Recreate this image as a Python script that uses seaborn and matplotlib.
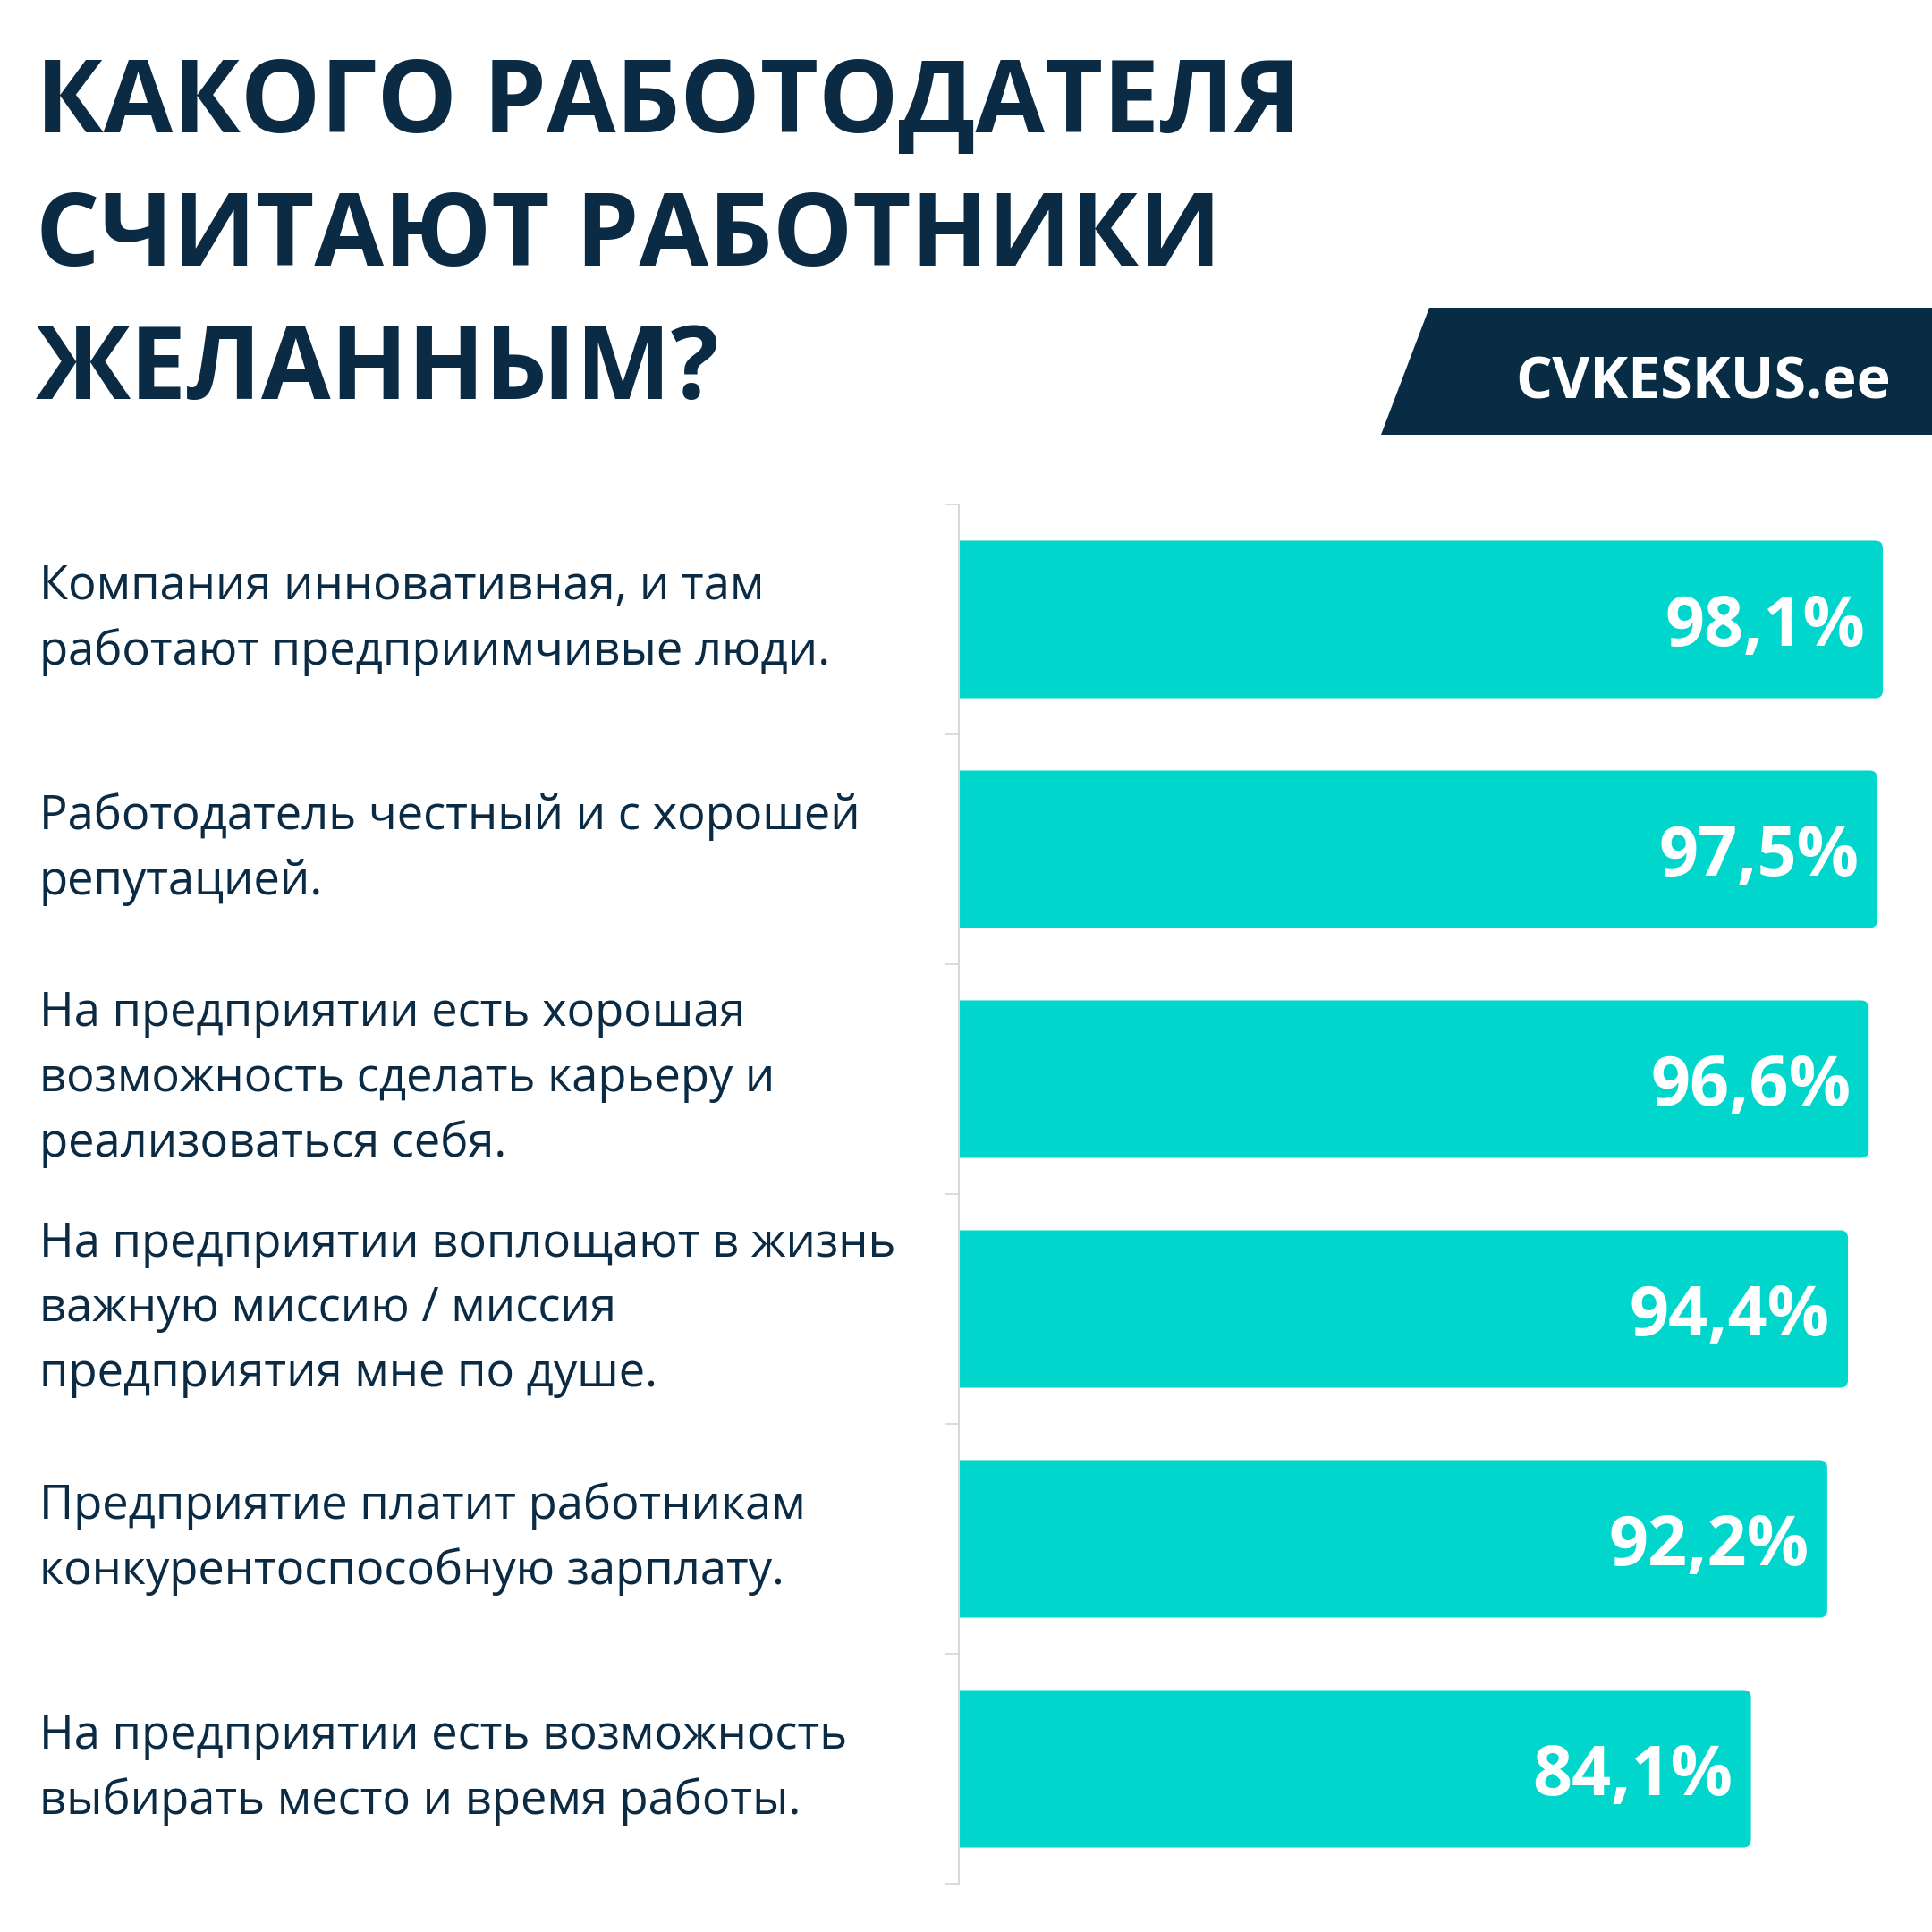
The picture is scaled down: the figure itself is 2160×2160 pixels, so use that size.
import numpy as np
import pandas as pd
import seaborn as sns
import matplotlib.pyplot as plt
from matplotlib.patches import FancyBboxPatch, Polygon
import matplotlib.transforms as mtransforms

# data
labels = [
    "Компания инновативная, и там\nработают предприимчивые люди.",
    "Работодатель честный и с хорошей\nрепутацией.",
    "На предприятии есть хорошая\nвозможность сделать карьеру и\nреализоваться себя.",
    "На предприятии воплощают в жизнь\nважную миссию / миссия\nпредприятия мне по душе.",
    "Предприятие платит работникам\nконкурентоспособную зарплату.",
    "На предприятии есть возможность\nвыбирать место и время работы.",
]
values = [98.1, 97.5, 96.6, 94.4, 92.2, 84.1]
title_lines = ["КАКОГО РАБОТОДАТЕЛЯ", "СЧИТАЮТ РАБОТНИКИ", "ЖЕЛАННЫМ?"]
logo_text = "CVKESKUS.ee"

navy = '#0b2b45'
teal = '#00d6cc'

sns.set_style('white')
plt.rcParams['font.family'] = ['Open Sans', 'DejaVu Sans']

W = 2160
fig = plt.figure(figsize=(21.6, 21.6), dpi=100)
fig.patch.set_facecolor('white')

# axes: left spine at x=1072px, y from 564px to 2106px
ax = fig.add_axes([1072 / W, 1 - 2106 / W, 1 - 1072 / W, (2106 - 564) / W])

df = pd.DataFrame({'label': labels, 'value': values})
sns.barplot(data=df, x='value', y='label', orient='h', color=teal,
            width=0.685, saturation=1, ax=ax)

ax.set_xlim(0, (W - 1072) / 10.53)
ax.set_ylim(len(labels) - 0.5, -0.5)

# rounded right ends
xr = 10.53 / 257.0
for p in list(ax.patches):
    x0, y0, w, h = p.get_x(), p.get_y(), p.get_width(), p.get_height()
    rp = FancyBboxPatch((x0 - 2, y0), w + 2, h,
                        boxstyle="round,pad=0,rounding_size=0.8",
                        mutation_aspect=xr, facecolor=teal, edgecolor='none',
                        clip_on=True)
    p.remove()
    ax.add_patch(rp)
    ax.text(x0 + w - 1.9, y0 + h / 2, f"{w:.1f}".replace('.', ',') + '%',
            ha='right', va='center_baseline', color='white',
            fontsize=55.5, fontweight='bold')

ax.set_xlabel('')
ax.set_ylabel('')
ax.set_xticks([])
ax.set_yticks(range(len(labels)))
ax.set_yticklabels([''] * len(labels))
ax.set_yticks(np.arange(-0.5, len(labels), 1), minor=True)
ax.tick_params(axis='y', which='major', length=0)
ax.tick_params(axis='y', which='minor', length=11.5, width=1.2,
               color='#d4d4d4', left=True)
for s in ['top', 'right', 'bottom']:
    ax.spines[s].set_visible(False)
ax.spines['left'].set_color('#d8d8d8')
ax.spines['left'].set_linewidth(1.5)

# category labels, left aligned at the image edge
trans = mtransforms.blended_transform_factory(fig.transFigure, ax.transData)
for i, lab in enumerate(labels):
    ax.text(44 / W, i, lab, transform=trans, ha='left', va='center',
            fontsize=37.8, color=navy, linespacing=1.47, clip_on=False)

# title
for line, base in zip(title_lines, [148, 297, 446]):
    fig.text(40 / W, 1 - base / W, line, ha='left', va='baseline',
             fontsize=81, fontweight='bold', color=navy)

# logo block
poly = Polygon([(1544 / W, 1 - 486 / W), (1598 / W, 1 - 344 / W),
                (1.0, 1 - 344 / W), (1.0, 1 - 486 / W)],
               closed=True, transform=fig.transFigure, facecolor='#092c45',
               edgecolor='none')
fig.patches.append(poly)
fig.text(1694 / W, 1 - 445 / W, logo_text, ha='left', va='baseline',
         fontsize=46.5, fontweight='bold', color='white')

fig.savefig('out.png', dpi=100, facecolor='white')
